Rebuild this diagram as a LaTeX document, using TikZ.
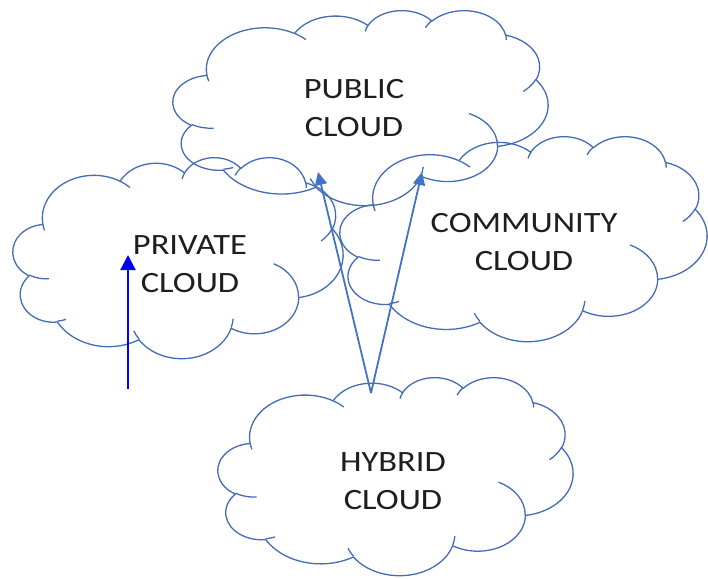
\documentclass[tikz,border=0pt]{standalone}
\usepackage{fontspec}
\setmainfont{Carlito}
\usetikzlibrary{arrows.meta}
\definecolor{cloudblue}{RGB}{68,108,180}
\definecolor{arrowblue}{RGB}{68,114,196}
\definecolor{pureblue}{RGB}{0,0,255}
\definecolor{txt}{RGB}{30,30,30}
% Office-style elliptical arc: wR hR startAngle sweep (visual angles)
\newcommand\oa[4]{\pgfextra{%
 \pgfmathparse{atan2(#1*sin(#3),#2*cos(#3))}\xdef\oaS{\pgfmathresult}%
 \pgfmathparse{atan2(#1*sin(#3+#4),#2*cos(#3+#4))}\xdef\oaE{\pgfmathresult}%
 \pgfmathparse{mod(\oaE-\oaS+720,360)}\xdef\oaD{\pgfmathresult}}%
 arc[start angle=\oaS, delta angle=\oaD, x radius=#1, y radius=#2]}
\newcommand\ocloud[5]{%
 \begin{scope}[shift={(#2,#3)}, xscale=#4/432, yscale=#5/432]
  \draw[cloudline] (39.00,143.70)
   \oa{67.53}{91.90}{-190.4875}{123.7805}
   \oa{53.33}{72.67}{-144.1024}{89.9452}
   \oa{43.65}{59.45}{-145.8079}{99.7230}
   \oa{48.57}{65.95}{-130.9861}{117.2417}
   \oa{53.33}{72.73}{-78.7089}{109.0269}
   \oa{67.75}{92.20}{-46.2673}{130.2690}
   \oa{57.85}{78.67}{0.6250}{114.0333}
   \oa{67.52}{92.15}{22.4516}{115.1726}
   \oa{77.20}{105.43}{66.2426}{75.7110}
   \oa{43.60}{59.18}{-274.9421}{146.7356}
   \oa{43.45}{59.45}{-246.8285}{152.5189} -- cycle;
  \draw[cloudline]
   (46.93,261.77) \oa{43.45}{59.45}{86.7420}{26.4295}
   (69.28,348.99) \oa{43.60}{59.18}{73.6105}{11.4475}
   (164.78,390.90) \oa{67.52}{92.15}{137.6242}{14.0811}
   (288.27,347.51) \oa{67.52}{92.15}{6.4533}{15.9984}
   (341.29,229.54) \oa{57.85}{78.67}{-70.2924}{70.9174}
   (417.98,153.54) \oa{53.33}{72.73}{30.3180}{27.7515}
   (383.24,54.26) \oa{48.57}{65.95}{-13.7443}{14.8589}
   (290.78,39.52) \oa{48.57}{65.95}{-149.1815}{18.1954}
   (221.41,47.20) \oa{43.65}{59.45}{-163.4943}{17.6864}
   (140.00,51.92) \oa{67.53}{91.90}{-66.7070}{12.3194}
   (41.27,157.89) \oa{67.53}{91.90}{157.6544}{11.8582};
  \coordinate (#1) at (216,216);
 \end{scope}}
\newcommand\stx[1]{\scalebox{1.17}[1]{#1}}
\tikzset{
 cloudline/.style={draw=cloudblue, line width=1.3pt, line join=round},
 lbl/.style={text=txt, align=center, inner sep=0pt, font=\fontsize{29.5}{38.5}\selectfont},
 conn/.style={draw=arrowblue, line width=1.8pt, -{Triangle[length=13pt,width=12pt]}},
 bluearrow/.style={draw=pureblue, line width=2.2pt, -{Triangle[length=15pt,width=15pt]}}
}
\begin{document}
\begin{tikzpicture}[x=1pt,y=1pt,yscale=-1]
\useasboundingbox (0,0) rectangle (708,578);
\ocloud{public}{173}{10}{375}{195}
\ocloud{private}{13}{157}{330}{201}
\ocloud{community}{340}{136}{367}{205}
\ocloud{hybrid}{218}{377}{355}{198}
\node[lbl] (publbl) at (354,108) {\stx{PUBLIC}\\\stx{CLOUD}};
\node[lbl] (privlbl) at (190,264) {\stx{PRIVATE}\\\stx{CLOUD}};
\node[lbl] (commlbl) at (524,242) {\stx{COMMUNITY}\\\stx{CLOUD}};
\node[lbl] (hyblbl) at (393,481) {\stx{HYBRID}\\\stx{CLOUD}};
\coordinate (hybtop) at (371,393);
\coordinate (pubA) at (318,172);
\coordinate (pubB) at (422,172);
\draw[conn] (hybtop) -- (pubA);
\draw[conn] (hybtop) -- (pubB);
\coordinate (pvfoot) at (128,389);
\coordinate (pvhead) at (128,255);
\draw[bluearrow] (pvfoot) -- (pvhead);
\end{tikzpicture}
\end{document}
